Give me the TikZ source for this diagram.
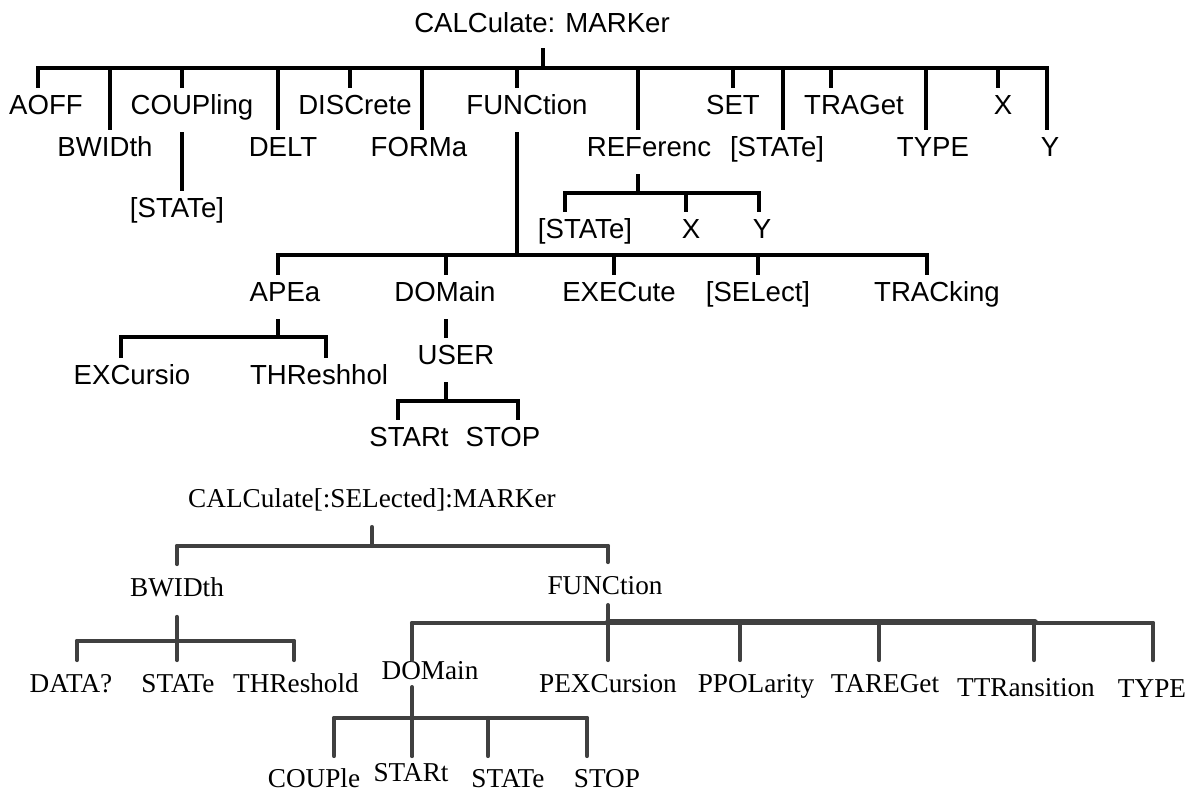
\documentclass[tikz,border=0pt]{standalone}
\usepackage{fontspec}
\setmainfont{Liberation Serif}
\setsansfont{Liberation Sans}
\definecolor{LineGray}{HTML}{404040}

\begin{document}
\begin{tikzpicture}[
  x=0.02cm, y=-0.02cm,
  cmd/.style={font=\sffamily\fontsize{15.7}{18}\selectfont, inner sep=0pt, anchor=base},
  scpi/.style={font=\rmfamily\fontsize{15.5}{18}\selectfont, inner sep=0pt, anchor=base},
  tline/.style={line width=2.8pt, line cap=rect},
  bline/.style={line width=2.3pt, line cap=round, draw=LineGray},
  up/.style={shorten <=11pt},
  kid/.style={shorten >=16.7pt},
]
\useasboundingbox (0,0) rectangle (1194,793);

% upper tree
\node[cmd] (t-root)  at (542,33)  {CALCulate: MARKer};
\node[cmd] (t-aoff)  at (46,115)  {AOFF};
\node[cmd] (t-bwid)  at (105,157) {BWIDth};
\node[cmd] (t-coup)  at (192,115) {COUPling};
\node[cmd] (t-coupst) at (177,218) {[STATe]};
\node[cmd] (t-delt)  at (283,157) {DELT};
\node[cmd] (t-disc)  at (355,115) {DISCrete};
\node[cmd] (t-form)  at (419,157) {FORMa};
\node[cmd] (t-func)  at (527,115) {FUNCtion};
\node[cmd] (t-ref)   at (649,157) {REFerenc};
\node[cmd] (t-set)   at (733,115) {SET};
\node[cmd] (t-state) at (777,157) {[STATe]};
\node[cmd] (t-trag)  at (854,115) {TRAGet};
\node[cmd] (t-type)  at (933,157) {TYPE};
\node[cmd] (t-x)     at (1003,115) {X};
\node[cmd] (t-y)     at (1050,157) {Y};
\node[cmd] (t-refst) at (585,239) {[STATe]};
\node[cmd] (t-refx)  at (691,239) {X};
\node[cmd] (t-refy)  at (762,239) {Y};
\node[cmd] (t-apea)  at (285,302) {APEa};
\node[cmd] (t-dom)   at (445,302) {DOMain};
\node[cmd] (t-exec)  at (619,302) {EXECute};
\node[cmd] (t-sel)   at (758,302) {[SELect]};
\node[cmd] (t-track) at (937,302) {TRACking};
\node[cmd] (t-excur) at (132,385) {EXCursio};
\node[cmd] (t-thres) at (319,385) {THReshhol};
\node[cmd] (t-user)  at (456,365) {USER};
\node[cmd] (t-start) at (409,447) {STARt};
\node[cmd] (t-stop)  at (503,447) {STOP};

\coordinate (t-bus)  at (543,68);
\coordinate (t-fbus) at (517,255);
\coordinate (t-rbus) at (638,193);
\coordinate (t-abus) at (278,337);
\coordinate (t-ubus) at (446,401);

\draw[tline, shorten <=9.9pt] (t-bus |- t-root.base) -- (t-bus);
\draw[tline] (38,0 |- t-bus) -- (1047,0 |- t-bus);
\foreach \n/\x in {aoff/38, coup/182, disc/350, func/517, set/733, trag/831, x/998,
                   bwid/110, delt/278, form/422, ref/638, state/783, type/926, y/1047}
  \draw[tline, kid] (\x,0 |- t-bus) -- (\x,0 |- t-\n.base);
\draw[tline, up, kid] (182,0 |- t-coup.base) -- (182,0 |- t-coupst.base);

\draw[tline, up] (t-fbus |- t-func.base) -- (t-fbus);
\draw[tline] (278,0 |- t-fbus) -- (927,0 |- t-fbus);
\foreach \n/\x in {apea/278, dom/446, exec/614, sel/758, track/927}
  \draw[tline, kid] (\x,0 |- t-fbus) -- (\x,0 |- t-\n.base);

\draw[tline, up] (t-rbus |- t-ref.base) -- (t-rbus);
\draw[tline] (565,0 |- t-rbus) -- (759,0 |- t-rbus);
\foreach \n/\x in {refst/565, refx/686, refy/759}
  \draw[tline, kid] (\x,0 |- t-rbus) -- (\x,0 |- t-\n.base);

\draw[tline, up] (t-abus |- t-apea.base) -- (t-abus);
\draw[tline] (121,0 |- t-abus) -- (326,0 |- t-abus);
\foreach \n/\x in {excur/121, thres/326}
  \draw[tline, kid] (\x,0 |- t-abus) -- (\x,0 |- t-\n.base);

\draw[tline, up, kid] (446,0 |- t-dom.base) -- (446,0 |- t-user.base);
\draw[tline, up] (t-ubus |- t-user.base) -- (t-ubus);
\draw[tline] (398,0 |- t-ubus) -- (518,0 |- t-ubus);
\foreach \n/\x in {start/398, stop/518}
  \draw[tline, kid] (\x,0 |- t-ubus) -- (\x,0 |- t-\n.base);

% lower tree
\node[scpi] (b-root)   at (372,508) {CALCulate[:SELected]:MARKer};
\node[scpi] (b-bwid)   at (177,597) {BWIDth};
\node[scpi] (b-func)   at (605,595) {FUNCtion};
\node[scpi] (b-data)   at (71,693)  {DATA?};
\node[scpi] (b-state)  at (178,693) {STATe};
\node[scpi] (b-thres)  at (296,693) {THReshold};
\node[scpi] (b-dom)    at (430,680) {DOMain};
\node[scpi] (b-pexc)   at (608,693) {PEXCursion};
\node[scpi] (b-ppol)   at (756,693) {PPOLarity};
\node[scpi] (b-tare)   at (885,693) {TAREGet};
\node[scpi] (b-ttr)    at (1026,697) {TTRansition};
\node[scpi] (b-type)   at (1152,698) {TYPE};
\node[scpi] (b-couple) at (314,787) {COUPle};
\node[scpi] (b-start)  at (411,782) {STARt};
\node[scpi] (b-dstate) at (508,787) {STATe};
\node[scpi] (b-stop)   at (607,787) {STOP};

\coordinate (b-bus)  at (372,546);
\coordinate (b-bbus) at (177,641);
\coordinate (b-fbus) at (608,623);
\coordinate (b-dbus) at (412,718);

\draw[bline, shorten <=10.8pt] (b-bus |- b-root.base) -- (b-bus);
\draw[bline] (177,0 |- b-bus) -- (608,0 |- b-bus);
\foreach \n/\x in {bwid/177, func/608}
  \draw[bline, shorten >=18.7pt] (\x,0 |- b-bus) -- (\x,0 |- b-\n.base);

\draw[bline, shorten <=11.3pt] (b-bbus |- b-bwid.base) -- (b-bbus);
\draw[bline] (77,0 |- b-bbus) -- (294,0 |- b-bbus);
\foreach \n/\x in {data/77, state/177, thres/294}
  \draw[bline, shorten >=18.7pt] (\x,0 |- b-bbus) -- (\x,0 |- b-\n.base);

\draw[bline, shorten <=5.7pt] (b-fbus |- b-func.base) -- (b-fbus);
\draw[bline] (412,0 |- b-fbus) -- (1153,0 |- b-fbus);
\draw[bline, line width=3.4pt] ([yshift=0.5pt]b-fbus) -- ++(427,0);
\foreach \n/\x/\g in {dom/412/11.3, pexc/608/18.7, ppol/740/18.7, tare/879/18.7,
                      ttr/1034/21, type/1153/21.5}
  \draw[bline, shorten >=\g pt] (\x,0 |- b-fbus) -- (\x,0 |- b-\n.base);

\draw[bline, shorten <=4pt] (b-dbus |- b-dom.base) -- (b-dbus);
\draw[bline] (334,0 |- b-dbus) -- (587,0 |- b-dbus);
\foreach \n/\x/\g in {couple/334/17.6, start/412/14.7, dstate/488/17.6, stop/587/17.6}
  \draw[bline, shorten >=\g pt] (\x,0 |- b-dbus) -- (\x,0 |- b-\n.base);
\end{tikzpicture}
\end{document}
